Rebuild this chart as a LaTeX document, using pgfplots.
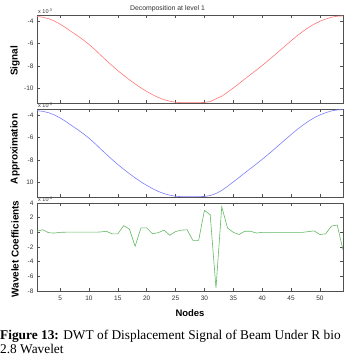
\documentclass[border=0pt]{standalone}
\usepackage{pgfplots}
\pgfplotsset{compat=1.18}
\usepackage{pgfplotstable}
\usepackage{fontspec}
\setmainfont{Liberation Serif}
\newfontfamily\arial{Liberation Sans}
\definecolor{sigc}{RGB}{255,120,120}
\definecolor{appc}{RGB}{125,125,255}
\definecolor{detc}{RGB}{100,185,100}
\definecolor{axc}{RGB}{80,80,80}
\definecolor{tkc}{RGB}{50,50,50}

\pgfplotstableread{
n s a d
1 -3.55 -3.60 0.15
2 -3.62 -3.66 0.35
3 -3.75 -3.78 -0.05
4 -3.96 -3.98 -0.10
5 -4.24 -4.25 0.00
6 -4.57 -4.57 0.02
7 -4.93 -4.93 0.02
8 -5.28 -5.28 0.02
9 -5.65 -5.65 0.02
10 -6.06 -6.06 0.02
11 -6.52 -6.52 0.02
12 -7.01 -7.01 0.05
13 -7.50 -7.50 0.15
14 -7.97 -7.97 -0.20
15 -8.42 -8.42 -0.20
16 -8.84 -8.84 0.90
17 -9.24 -9.24 0.45
18 -9.62 -9.62 -1.90
19 -9.97 -9.97 0.60
20 -10.29 -10.29 0.60
21 -10.58 -10.58 -0.20
22 -10.83 -10.83 -0.05
23 -11.03 -11.03 0.30
24 -11.17 -11.17 -0.40
25 -11.26 -11.26 0.10
26 -11.30 -11.30 0.30
27 -11.31 -11.31 0.35
28 -11.31 -11.31 -1.10
29 -11.30 -11.30 -1.10
30 -11.28 -11.28 3.00
31 -11.20 -11.20 2.40
32 -10.95 -11.02 -7.60
33 -10.72 -10.74 3.50
34 -10.36 -10.37 0.60
35 -9.98 -9.98 0.00
36 -9.58 -9.58 -0.30
37 -9.17 -9.17 0.15
38 -8.77 -8.77 0.15
39 -8.37 -8.37 -0.10
40 -7.96 -7.96 0.00
41 -7.53 -7.53 0.00
42 -7.09 -7.09 0.00
43 -6.64 -6.64 0.00
44 -6.19 -6.19 0.00
45 -5.74 -5.74 0.00
46 -5.31 -5.31 0.00
47 -4.91 -4.91 0.00
48 -4.55 -4.55 0.10
49 -4.24 -4.24 0.20
50 -3.98 -3.98 -0.30
51 -3.78 -3.78 -0.20
52 -3.62 -3.62 0.85
53 -3.53 -3.53 1.00
54 -3.50 -3.50 -2.40
}\dat

\pgfplotsset{
  panel/.style={
    scale only axis, width=306bp, height=88bp,
    anchor=north west,
    xmin=1, xmax=54,
    xtick={5,10,...,50},
    axis line style={axc, line width=0.8pt},
    tick style={axc, line width=0.5pt},
    tick align=inside,
    major tick length=3bp,
    ticklabel style={font=\arial\fontsize{6.5}{7}\selectfont, text=tkc},
    /pgf/number format/assume math mode=true,
    scaled y ticks=false,
  }
}

\begin{document}
\begin{tikzpicture}
\useasboundingbox (0,0) rectangle (358bp,-363bp);

\begin{axis}[panel, at={(37bp,-15bp)},
  ymin=-11.33, ymax=-3.42,
  ytick={-10,-8,-6,-4}, yticklabels={-10,-8,-6,-4},
  xticklabels={}]
\addplot[sigc, line width=0.6pt] table[x=n,y=s] {\dat};
\end{axis}

\begin{axis}[panel, at={(37bp,-109bp)},
  ymin=-11.33, ymax=-3.45,
  ytick={-10,-8,-6,-4}, yticklabels={10,-8,-6,-4},
  xticklabels={}]
\addplot[appc, line width=0.6pt] table[x=n,y=a] {\dat};
\end{axis}

\begin{axis}[panel, at={(37bp,-203bp)},
  ymin=-8, ymax=4,
  ytick={-8,-6,...,4},
  xticklabel style={yshift=-1.5bp},
  xlabel={Nodes},
  xlabel style={font=\arial\bfseries\fontsize{9.5}{10}\selectfont, yshift=-2bp}]
\addplot[detc, line width=0.6pt] table[x=n,y=d] {\dat};
\end{axis}

\node[rotate=90, font=\arial\bfseries\fontsize{10}{11}\selectfont] at (15bp,-61bp) {Signal};
\node[rotate=90, font=\arial\bfseries\fontsize{10}{11}\selectfont] at (15bp,-149bp) {Approximation};
\node[rotate=90, font=\arial\bfseries\fontsize{10}{11}\selectfont] at (15bp,-249bp) {Wavelet Coefficients};

\node[font=\arial\fontsize{6.9}{8}\selectfont, text=tkc] at (167.5bp,-8.5bp) {Decomposition at level 1};
\node[font=\arial\fontsize{5.5}{6}\selectfont, text=tkc, anchor=base west, inner sep=0pt] at (38bp,-13.5bp) {x 10\textsuperscript{-3}};
\node[font=\arial\fontsize{5.5}{6}\selectfont, text=tkc, anchor=base west, inner sep=0pt] at (38bp,-107.5bp) {x 10\textsuperscript{-3}};
\node[font=\arial\fontsize{5.5}{6}\selectfont, text=tkc, anchor=base west, inner sep=0pt] at (38bp,-201.5bp) {x 10\textsuperscript{-4}};

\node[anchor=base west, inner sep=0pt, font=\fontsize{13.4}{14}\selectfont] at (0bp,-339.5bp) {\textbf{Figure 13:} DWT of Displacement Signal of Beam Under R bio};
\node[anchor=base west, inner sep=0pt, font=\fontsize{13.4}{14}\selectfont] at (0bp,-353.8bp) {2.8 Wavelet};
\end{tikzpicture}
\end{document}
